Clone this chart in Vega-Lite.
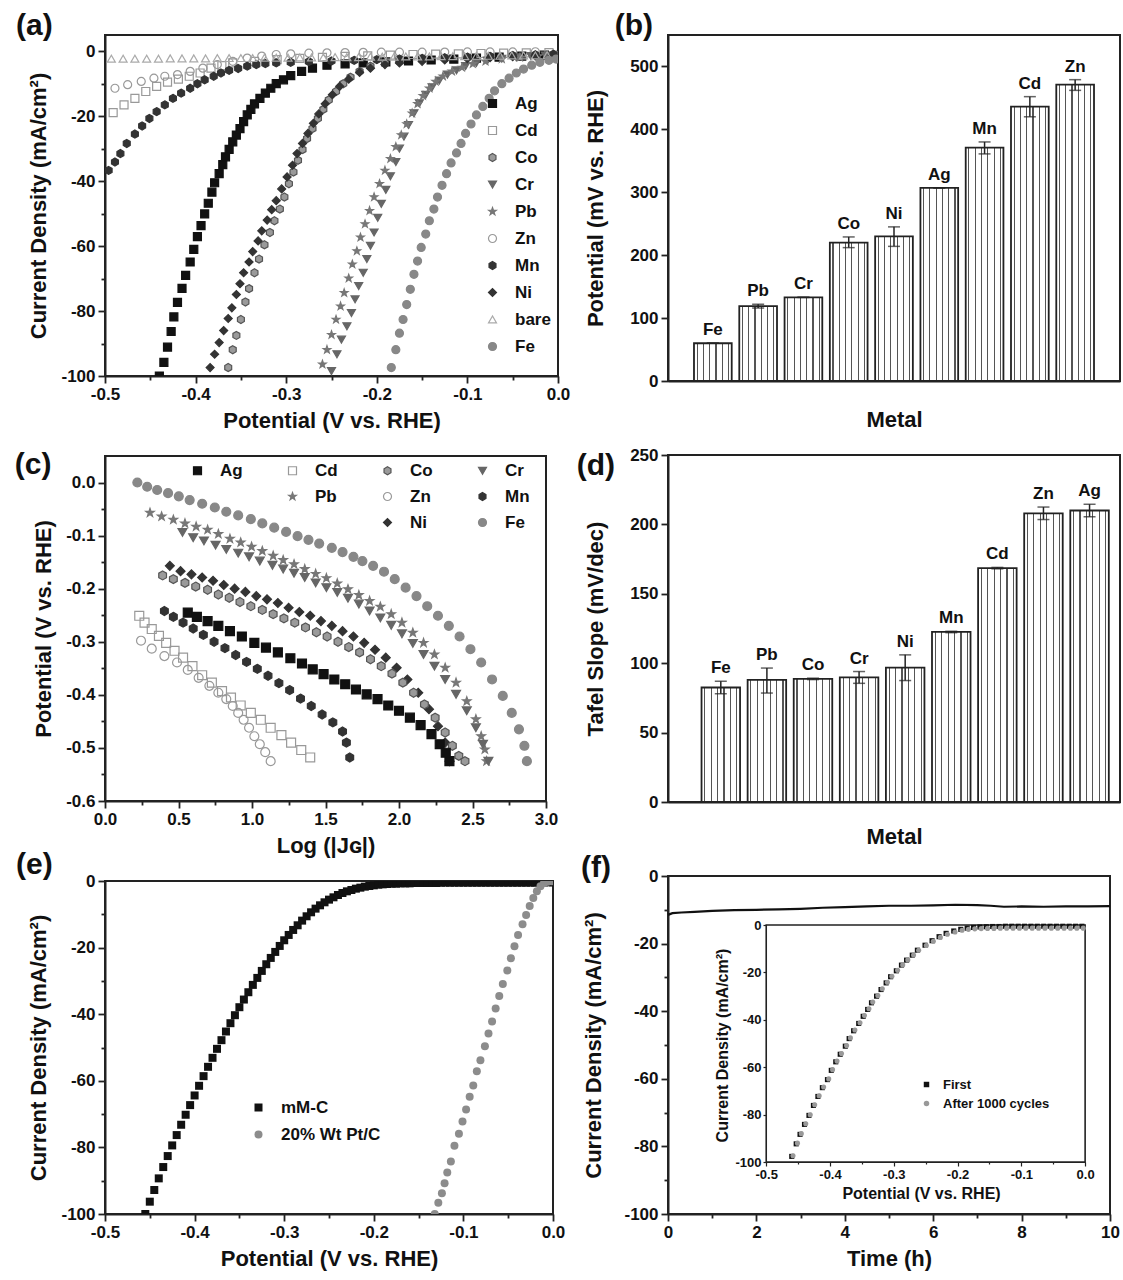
{
"$schema":"https://vega.github.io/schema/vega-lite/v6.json",
"padding":{"left":13,"top":10,"right":2,"bottom":2},
"background":"white",
"config":{
 "font":"Liberation Sans",
 "locale":{"number":{"decimal":".","thousands":",","grouping":[3],"currency":["$",""],"minus":"-"}},
 "view":{"stroke":"#222","strokeWidth":2},
 "axis":{"labelFont":"Liberation Sans","labelFontSize":17,"labelFontWeight":"bold","labelColor":"#111","titleFont":"Liberation Sans","titleFontSize":22,"titleFontWeight":"bold","titleColor":"#111","domainColor":"#222","domainWidth":2,"tickColor":"#222","tickWidth":1.8,"labelPadding":3,"labelFlush":false,"labelOverlap":false,"grid":false},
 "axisX":{"titlePadding":8},
 "axisY":{"titlePadding":10},
 "title":{"fontSize":30,"fontWeight":"bold","color":"#111","anchor":"start","frame":"bounds","offset":0},
 "legend":{"labelFont":"Liberation Sans","labelFontWeight":"bold","labelColor":"#111","labelFontSize":17}
},
"datasets":{
"b":[{"m":"Fe","v":60,"lo":60,"hi":60},{"m":"Pb","v":119,"lo":116,"hi":122},{"m":"Cr","v":133,"lo":133,"hi":133},{"m":"Co","v":220,"lo":212,"hi":229},{"m":"Ni","v":230,"lo":214,"hi":245},{"m":"Ag","v":307,"lo":307,"hi":307},{"m":"Mn","v":371,"lo":361,"hi":380},{"m":"Cd","v":436,"lo":420,"hi":452},{"m":"Zn","v":471,"lo":462,"hi":479}],
"d":[{"m":"Fe","v":82.5,"lo":78,"hi":87},{"m":"Pb","v":88,"lo":78.5,"hi":96.5},{"m":"Co","v":88.7,"lo":88.2,"hi":89.2},{"m":"Cr","v":89.8,"lo":85.5,"hi":94},{"m":"Ni","v":96.8,"lo":87.5,"hi":106},{"m":"Mn","v":122.5,"lo":122,"hi":123},{"m":"Cd","v":168.5,"lo":168,"hi":169},{"m":"Zn","v":208,"lo":203.5,"hi":212.5},{"m":"Ag","v":210,"lo":205.5,"hi":214.5}],
"a":[
{"s":"Ag","x":-0.44,"y":-100},{"s":"Ag","x":-0.435,"y":-95.8},{"s":"Ag","x":-0.431,"y":-91.1},{"s":"Ag","x":-0.427,"y":-86.3},{"s":"Ag","x":-0.424,"y":-81.8},{"s":"Ag","x":-0.42,"y":-77.3},{"s":"Ag","x":-0.415,"y":-73},{"s":"Ag","x":-0.411,"y":-69},{"s":"Ag","x":-0.406,"y":-64.9},{"s":"Ag","x":-0.402,"y":-61},{"s":"Ag","x":-0.398,"y":-57.1},{"s":"Ag","x":-0.394,"y":-53.7},{"s":"Ag","x":-0.39,"y":-50.1},{"s":"Ag","x":-0.386,"y":-46.8},{"s":"Ag","x":-0.382,"y":-43.4},{"s":"Ag","x":-0.379,"y":-40.5},{"s":"Ag","x":-0.374,"y":-37.7},{"s":"Ag","x":-0.37,"y":-34.9},{"s":"Ag","x":-0.367,"y":-32.5},{"s":"Ag","x":-0.363,"y":-30.2},{"s":"Ag","x":-0.359,"y":-27.9},{"s":"Ag","x":-0.355,"y":-25.8},{"s":"Ag","x":-0.351,"y":-23.8},{"s":"Ag","x":-0.347,"y":-21.7},{"s":"Ag","x":-0.343,"y":-19.6},{"s":"Ag","x":-0.339,"y":-17.9},{"s":"Ag","x":-0.335,"y":-16.2},{"s":"Ag","x":-0.329,"y":-14.5},{"s":"Ag","x":-0.323,"y":-12.9},{"s":"Ag","x":-0.317,"y":-11.4},{"s":"Ag","x":-0.311,"y":-10},{"s":"Ag","x":-0.303,"y":-8.8},{"s":"Ag","x":-0.295,"y":-7.5},{"s":"Ag","x":-0.283,"y":-6.2},{"s":"Ag","x":-0.271,"y":-5.2},{"s":"Ag","x":-0.255,"y":-4.3},{"s":"Ag","x":-0.235,"y":-3.9},{"s":"Ag","x":-0.215,"y":-3.6},{"s":"Ag","x":-0.19,"y":-3.3},{"s":"Ag","x":-0.165,"y":-3},{"s":"Ag","x":-0.14,"y":-2.7},{"s":"Ag","x":-0.115,"y":-2.4},{"s":"Ag","x":-0.09,"y":-2.1},{"s":"Ag","x":-0.065,"y":-1.8},{"s":"Ag","x":-0.04,"y":-1.5},{"s":"Ag","x":-0.015,"y":-1.2},
{"s":"Cd","x":-0.491,"y":-18.9},{"s":"Cd","x":-0.479,"y":-16.5},{"s":"Cd","x":-0.467,"y":-14.5},{"s":"Cd","x":-0.455,"y":-12.4},{"s":"Cd","x":-0.443,"y":-10.8},{"s":"Cd","x":-0.431,"y":-9.5},{"s":"Cd","x":-0.419,"y":-8.6},{"s":"Cd","x":-0.407,"y":-7.7},{"s":"Cd","x":-0.395,"y":-6.7},{"s":"Cd","x":-0.383,"y":-5.2},{"s":"Cd","x":-0.371,"y":-4.4},{"s":"Cd","x":-0.359,"y":-3.6},{"s":"Cd","x":-0.335,"y":-3.1},{"s":"Cd","x":-0.31,"y":-2.6},{"s":"Cd","x":-0.285,"y":-2.2},{"s":"Cd","x":-0.26,"y":-1.9},{"s":"Cd","x":-0.235,"y":-1.6},{"s":"Cd","x":-0.21,"y":-1.4},{"s":"Cd","x":-0.185,"y":-1.2},{"s":"Cd","x":-0.16,"y":-1},{"s":"Cd","x":-0.135,"y":-0.9},{"s":"Cd","x":-0.11,"y":-0.8},{"s":"Cd","x":-0.085,"y":-0.7},{"s":"Cd","x":-0.06,"y":-0.6},{"s":"Cd","x":-0.035,"y":-0.5},{"s":"Cd","x":-0.01,"y":-0.4},
{"s":"Co","x":-0.364,"y":-97.4},{"s":"Co","x":-0.359,"y":-91.9},{"s":"Co","x":-0.355,"y":-87.5},{"s":"Co","x":-0.35,"y":-82.6},{"s":"Co","x":-0.345,"y":-77.2},{"s":"Co","x":-0.341,"y":-73.1},{"s":"Co","x":-0.335,"y":-68.2},{"s":"Co","x":-0.33,"y":-64},{"s":"Co","x":-0.324,"y":-59.6},{"s":"Co","x":-0.318,"y":-55.8},{"s":"Co","x":-0.313,"y":-52.2},{"s":"Co","x":-0.307,"y":-48.6},{"s":"Co","x":-0.302,"y":-44.9},{"s":"Co","x":-0.297,"y":-40.8},{"s":"Co","x":-0.292,"y":-37.2},{"s":"Co","x":-0.287,"y":-33.6},{"s":"Co","x":-0.282,"y":-30.3},{"s":"Co","x":-0.277,"y":-26.9},{"s":"Co","x":-0.271,"y":-23.8},{"s":"Co","x":-0.265,"y":-20.7},{"s":"Co","x":-0.259,"y":-17.9},{"s":"Co","x":-0.253,"y":-15},{"s":"Co","x":-0.245,"y":-12.4},{"s":"Co","x":-0.237,"y":-10},{"s":"Co","x":-0.229,"y":-8},{"s":"Co","x":-0.219,"y":-6.2},{"s":"Co","x":-0.207,"y":-4.6},{"s":"Co","x":-0.191,"y":-3.6},{"s":"Co","x":-0.175,"y":-3.1},{"s":"Co","x":-0.15,"y":-2.6},{"s":"Co","x":-0.125,"y":-2.2},{"s":"Co","x":-0.1,"y":-1.9},{"s":"Co","x":-0.075,"y":-1.6},{"s":"Co","x":-0.05,"y":-1.3},{"s":"Co","x":-0.025,"y":-1.1},{"s":"Co","x":-0.005,"y":-0.9},
{"s":"Cr","x":-0.25,"y":-98.5},{"s":"Cr","x":-0.244,"y":-93.3},{"s":"Cr","x":-0.239,"y":-88.8},{"s":"Cr","x":-0.233,"y":-84.7},{"s":"Cr","x":-0.228,"y":-80.6},{"s":"Cr","x":-0.224,"y":-76.4},{"s":"Cr","x":-0.22,"y":-72.3},{"s":"Cr","x":-0.215,"y":-68.2},{"s":"Cr","x":-0.211,"y":-64},{"s":"Cr","x":-0.207,"y":-59.9},{"s":"Cr","x":-0.203,"y":-55.8},{"s":"Cr","x":-0.199,"y":-51.3},{"s":"Cr","x":-0.195,"y":-47},{"s":"Cr","x":-0.19,"y":-42.7},{"s":"Cr","x":-0.185,"y":-38.5},{"s":"Cr","x":-0.179,"y":-34.1},{"s":"Cr","x":-0.175,"y":-30},{"s":"Cr","x":-0.17,"y":-26.3},{"s":"Cr","x":-0.165,"y":-22.7},{"s":"Cr","x":-0.159,"y":-19.1},{"s":"Cr","x":-0.153,"y":-16},{"s":"Cr","x":-0.146,"y":-13.4},{"s":"Cr","x":-0.139,"y":-11.1},{"s":"Cr","x":-0.131,"y":-9},{"s":"Cr","x":-0.122,"y":-7.2},{"s":"Cr","x":-0.112,"y":-5.9},{"s":"Cr","x":-0.102,"y":-4.6},{"s":"Cr","x":-0.09,"y":-3.6},{"s":"Cr","x":-0.078,"y":-2.9},{"s":"Cr","x":-0.062,"y":-2.3},{"s":"Cr","x":-0.046,"y":-1.9},{"s":"Cr","x":-0.03,"y":-1.5},{"s":"Cr","x":-0.014,"y":-1.3},{"s":"Cr","x":-0.002,"y":-1.2},
{"s":"Pb","x":-0.26,"y":-96.4},{"s":"Pb","x":-0.255,"y":-91.9},{"s":"Pb","x":-0.25,"y":-87.3},{"s":"Pb","x":-0.245,"y":-82.6},{"s":"Pb","x":-0.24,"y":-78.5},{"s":"Pb","x":-0.236,"y":-74.4},{"s":"Pb","x":-0.231,"y":-69.9},{"s":"Pb","x":-0.227,"y":-65.6},{"s":"Pb","x":-0.222,"y":-61.5},{"s":"Pb","x":-0.218,"y":-57.3},{"s":"Pb","x":-0.213,"y":-53.2},{"s":"Pb","x":-0.208,"y":-49.1},{"s":"Pb","x":-0.203,"y":-44.9},{"s":"Pb","x":-0.197,"y":-40.8},{"s":"Pb","x":-0.191,"y":-36.7},{"s":"Pb","x":-0.185,"y":-33.1},{"s":"Pb","x":-0.179,"y":-29.4},{"s":"Pb","x":-0.173,"y":-25.8},{"s":"Pb","x":-0.167,"y":-22.4},{"s":"Pb","x":-0.161,"y":-19.1},{"s":"Pb","x":-0.155,"y":-16.2},{"s":"Pb","x":-0.149,"y":-13.7},{"s":"Pb","x":-0.142,"y":-11.4},{"s":"Pb","x":-0.135,"y":-9.3},{"s":"Pb","x":-0.127,"y":-7.7},{"s":"Pb","x":-0.117,"y":-6.2},{"s":"Pb","x":-0.106,"y":-5},{"s":"Pb","x":-0.094,"y":-3.9},{"s":"Pb","x":-0.08,"y":-3.1},{"s":"Pb","x":-0.062,"y":-2.4},{"s":"Pb","x":-0.042,"y":-1.9},{"s":"Pb","x":-0.022,"y":-1.5},{"s":"Pb","x":-0.002,"y":-1.3},
{"s":"Zn","x":-0.489,"y":-11.4},{"s":"Zn","x":-0.475,"y":-10.3},{"s":"Zn","x":-0.46,"y":-9.3},{"s":"Zn","x":-0.446,"y":-8.3},{"s":"Zn","x":-0.434,"y":-7.7},{"s":"Zn","x":-0.42,"y":-7.2},{"s":"Zn","x":-0.406,"y":-6.2},{"s":"Zn","x":-0.392,"y":-5.2},{"s":"Zn","x":-0.376,"y":-4.1},{"s":"Zn","x":-0.359,"y":-3.1},{"s":"Zn","x":-0.343,"y":-2.1},{"s":"Zn","x":-0.327,"y":-1.5},{"s":"Zn","x":-0.311,"y":-1},{"s":"Zn","x":-0.295,"y":-0.8},{"s":"Zn","x":-0.275,"y":-0.6},{"s":"Zn","x":-0.255,"y":-0.5},{"s":"Zn","x":-0.235,"y":-0.4},{"s":"Zn","x":-0.215,"y":-0.35},{"s":"Zn","x":-0.195,"y":-0.3},{"s":"Zn","x":-0.175,"y":-0.3},{"s":"Zn","x":-0.15,"y":-0.3},{"s":"Zn","x":-0.125,"y":-0.25},{"s":"Zn","x":-0.1,"y":-0.2},{"s":"Zn","x":-0.075,"y":-0.2},{"s":"Zn","x":-0.05,"y":-0.2},{"s":"Zn","x":-0.025,"y":-0.15},
{"s":"Mn","x":-0.496,"y":-36.7},{"s":"Mn","x":-0.489,"y":-34.1},{"s":"Mn","x":-0.483,"y":-31.5},{"s":"Mn","x":-0.476,"y":-28.4},{"s":"Mn","x":-0.467,"y":-25.5},{"s":"Mn","x":-0.459,"y":-23},{"s":"Mn","x":-0.451,"y":-20.7},{"s":"Mn","x":-0.443,"y":-18.6},{"s":"Mn","x":-0.434,"y":-16.5},{"s":"Mn","x":-0.425,"y":-14.5},{"s":"Mn","x":-0.416,"y":-12.9},{"s":"Mn","x":-0.406,"y":-11.4},{"s":"Mn","x":-0.398,"y":-10},{"s":"Mn","x":-0.39,"y":-8.8},{"s":"Mn","x":-0.38,"y":-7.7},{"s":"Mn","x":-0.372,"y":-6.7},{"s":"Mn","x":-0.363,"y":-5.9},{"s":"Mn","x":-0.353,"y":-5.3},{"s":"Mn","x":-0.343,"y":-4.6},{"s":"Mn","x":-0.333,"y":-4.1},{"s":"Mn","x":-0.323,"y":-3.8},{"s":"Mn","x":-0.311,"y":-3.6},{"s":"Mn","x":-0.295,"y":-3.4},{"s":"Mn","x":-0.275,"y":-3.2},{"s":"Mn","x":-0.25,"y":-3},{"s":"Mn","x":-0.225,"y":-2.8},{"s":"Mn","x":-0.2,"y":-2.6},{"s":"Mn","x":-0.175,"y":-2.4},{"s":"Mn","x":-0.15,"y":-2.2},{"s":"Mn","x":-0.125,"y":-2},{"s":"Mn","x":-0.1,"y":-1.8},{"s":"Mn","x":-0.075,"y":-1.6},{"s":"Mn","x":-0.05,"y":-1.4},{"s":"Mn","x":-0.025,"y":-1.2},{"s":"Mn","x":-0.005,"y":-1},
{"s":"Ni","x":-0.384,"y":-97.4},{"s":"Ni","x":-0.379,"y":-93.3},{"s":"Ni","x":-0.374,"y":-89.7},{"s":"Ni","x":-0.369,"y":-86},{"s":"Ni","x":-0.364,"y":-82.3},{"s":"Ni","x":-0.36,"y":-79},{"s":"Ni","x":-0.355,"y":-74.9},{"s":"Ni","x":-0.351,"y":-71.6},{"s":"Ni","x":-0.347,"y":-68.2},{"s":"Ni","x":-0.341,"y":-64.9},{"s":"Ni","x":-0.337,"y":-61.7},{"s":"Ni","x":-0.331,"y":-58.4},{"s":"Ni","x":-0.327,"y":-55.3},{"s":"Ni","x":-0.321,"y":-52},{"s":"Ni","x":-0.316,"y":-48.8},{"s":"Ni","x":-0.311,"y":-46},{"s":"Ni","x":-0.305,"y":-42.4},{"s":"Ni","x":-0.299,"y":-38.7},{"s":"Ni","x":-0.293,"y":-35.1},{"s":"Ni","x":-0.288,"y":-31.5},{"s":"Ni","x":-0.282,"y":-28.4},{"s":"Ni","x":-0.276,"y":-25.3},{"s":"Ni","x":-0.27,"y":-22.2},{"s":"Ni","x":-0.264,"y":-19.3},{"s":"Ni","x":-0.257,"y":-16.2},{"s":"Ni","x":-0.249,"y":-13.4},{"s":"Ni","x":-0.241,"y":-10.8},{"s":"Ni","x":-0.231,"y":-8.6},{"s":"Ni","x":-0.219,"y":-6.5},{"s":"Ni","x":-0.207,"y":-5.2},{"s":"Ni","x":-0.191,"y":-4.1},{"s":"Ni","x":-0.175,"y":-3.6},{"s":"Ni","x":-0.15,"y":-3.1},{"s":"Ni","x":-0.125,"y":-2.7},{"s":"Ni","x":-0.1,"y":-2.3},{"s":"Ni","x":-0.075,"y":-2},{"s":"Ni","x":-0.05,"y":-1.7},{"s":"Ni","x":-0.025,"y":-1.4},{"s":"Ni","x":-0.005,"y":-1.2},
{"s":"bare","x":-0.493,"y":-2.3},{"s":"bare","x":-0.48,"y":-2.3},{"s":"bare","x":-0.467,"y":-2.3},{"s":"bare","x":-0.454,"y":-2.3},{"s":"bare","x":-0.441,"y":-2.3},{"s":"bare","x":-0.428,"y":-2.2},{"s":"bare","x":-0.415,"y":-2.2},{"s":"bare","x":-0.402,"y":-2.2},{"s":"bare","x":-0.389,"y":-2.2},{"s":"bare","x":-0.376,"y":-2.1},{"s":"bare","x":-0.363,"y":-2.1},{"s":"bare","x":-0.35,"y":-2.1},{"s":"bare","x":-0.337,"y":-2.1},{"s":"bare","x":-0.324,"y":-2},{"s":"bare","x":-0.311,"y":-2},{"s":"bare","x":-0.298,"y":-2},{"s":"bare","x":-0.285,"y":-1.9},{"s":"bare","x":-0.272,"y":-1.9},{"s":"bare","x":-0.259,"y":-1.9},{"s":"bare","x":-0.246,"y":-1.8},{"s":"bare","x":-0.233,"y":-1.8},{"s":"bare","x":-0.22,"y":-1.8},{"s":"bare","x":-0.207,"y":-1.7},{"s":"bare","x":-0.194,"y":-1.7},{"s":"bare","x":-0.181,"y":-1.7},{"s":"bare","x":-0.168,"y":-1.6},{"s":"bare","x":-0.155,"y":-1.6},{"s":"bare","x":-0.142,"y":-1.6},{"s":"bare","x":-0.129,"y":-1.5},{"s":"bare","x":-0.116,"y":-1.5},{"s":"bare","x":-0.103,"y":-1.5},{"s":"bare","x":-0.09,"y":-1.4},{"s":"bare","x":-0.077,"y":-1.4},{"s":"bare","x":-0.064,"y":-1.4},{"s":"bare","x":-0.051,"y":-1.3},{"s":"bare","x":-0.038,"y":-1.3},{"s":"bare","x":-0.025,"y":-1.3},{"s":"bare","x":-0.012,"y":-1.2},
{"s":"Fe","x":-0.184,"y":-97.4},{"s":"Fe","x":-0.179,"y":-91.9},{"s":"Fe","x":-0.175,"y":-86.8},{"s":"Fe","x":-0.171,"y":-82.6},{"s":"Fe","x":-0.167,"y":-78},{"s":"Fe","x":-0.163,"y":-73.3},{"s":"Fe","x":-0.159,"y":-68.7},{"s":"Fe","x":-0.155,"y":-64.6},{"s":"Fe","x":-0.151,"y":-60.4},{"s":"Fe","x":-0.146,"y":-56.3},{"s":"Fe","x":-0.142,"y":-52.2},{"s":"Fe","x":-0.137,"y":-48.6},{"s":"Fe","x":-0.133,"y":-44.9},{"s":"Fe","x":-0.128,"y":-41.3},{"s":"Fe","x":-0.123,"y":-37.7},{"s":"Fe","x":-0.118,"y":-34.4},{"s":"Fe","x":-0.112,"y":-31.3},{"s":"Fe","x":-0.107,"y":-28.4},{"s":"Fe","x":-0.102,"y":-25.3},{"s":"Fe","x":-0.096,"y":-22.4},{"s":"Fe","x":-0.09,"y":-19.6},{"s":"Fe","x":-0.083,"y":-17},{"s":"Fe","x":-0.076,"y":-14.5},{"s":"Fe","x":-0.07,"y":-12.2},{"s":"Fe","x":-0.062,"y":-10},{"s":"Fe","x":-0.054,"y":-8.3},{"s":"Fe","x":-0.046,"y":-6.7},{"s":"Fe","x":-0.038,"y":-5.5},{"s":"Fe","x":-0.029,"y":-4.3},{"s":"Fe","x":-0.02,"y":-3.4},{"s":"Fe","x":-0.01,"y":-2.8},{"s":"Fe","x":-0.002,"y":-2.4}
],
"c":[
{"s":"Fe","x":0.22,"y":0},{"s":"Fe","x":0.287,"y":-0.008},{"s":"Fe","x":0.355,"y":-0.014},{"s":"Fe","x":0.429,"y":-0.02},{"s":"Fe","x":0.502,"y":-0.026},{"s":"Fe","x":0.576,"y":-0.033},{"s":"Fe","x":0.661,"y":-0.04},{"s":"Fe","x":0.747,"y":-0.047},{"s":"Fe","x":0.825,"y":-0.055},{"s":"Fe","x":0.906,"y":-0.062},{"s":"Fe","x":0.992,"y":-0.069},{"s":"Fe","x":1.07,"y":-0.077},{"s":"Fe","x":1.151,"y":-0.085},{"s":"Fe","x":1.232,"y":-0.093},{"s":"Fe","x":1.31,"y":-0.101},{"s":"Fe","x":1.384,"y":-0.108},{"s":"Fe","x":1.457,"y":-0.115},{"s":"Fe","x":1.543,"y":-0.123},{"s":"Fe","x":1.616,"y":-0.131},{"s":"Fe","x":1.69,"y":-0.14},{"s":"Fe","x":1.751,"y":-0.148},{"s":"Fe","x":1.824,"y":-0.157},{"s":"Fe","x":1.898,"y":-0.168},{"s":"Fe","x":1.971,"y":-0.182},{"s":"Fe","x":2.045,"y":-0.198},{"s":"Fe","x":2.119,"y":-0.214},{"s":"Fe","x":2.192,"y":-0.233},{"s":"Fe","x":2.265,"y":-0.251},{"s":"Fe","x":2.339,"y":-0.27},{"s":"Fe","x":2.412,"y":-0.29},{"s":"Fe","x":2.486,"y":-0.314},{"s":"Fe","x":2.559,"y":-0.339},{"s":"Fe","x":2.633,"y":-0.371},{"s":"Fe","x":2.706,"y":-0.402},{"s":"Fe","x":2.767,"y":-0.434},{"s":"Fe","x":2.816,"y":-0.465},{"s":"Fe","x":2.853,"y":-0.496},{"s":"Fe","x":2.87,"y":-0.525},
{"s":"Pb","x":0.306,"y":-0.057},{"s":"Pb","x":0.385,"y":-0.064},{"s":"Pb","x":0.465,"y":-0.07},{"s":"Pb","x":0.544,"y":-0.077},{"s":"Pb","x":0.62,"y":-0.083},{"s":"Pb","x":0.698,"y":-0.089},{"s":"Pb","x":0.771,"y":-0.097},{"s":"Pb","x":0.85,"y":-0.106},{"s":"Pb","x":0.923,"y":-0.113},{"s":"Pb","x":0.997,"y":-0.121},{"s":"Pb","x":1.07,"y":-0.129},{"s":"Pb","x":1.144,"y":-0.138},{"s":"Pb","x":1.212,"y":-0.146},{"s":"Pb","x":1.286,"y":-0.154},{"s":"Pb","x":1.359,"y":-0.163},{"s":"Pb","x":1.433,"y":-0.172},{"s":"Pb","x":1.506,"y":-0.18},{"s":"Pb","x":1.58,"y":-0.19},{"s":"Pb","x":1.653,"y":-0.201},{"s":"Pb","x":1.727,"y":-0.212},{"s":"Pb","x":1.8,"y":-0.223},{"s":"Pb","x":1.873,"y":-0.234},{"s":"Pb","x":1.947,"y":-0.248},{"s":"Pb","x":2.02,"y":-0.264},{"s":"Pb","x":2.094,"y":-0.283},{"s":"Pb","x":2.167,"y":-0.302},{"s":"Pb","x":2.241,"y":-0.324},{"s":"Pb","x":2.314,"y":-0.349},{"s":"Pb","x":2.388,"y":-0.377},{"s":"Pb","x":2.461,"y":-0.412},{"s":"Pb","x":2.523,"y":-0.446},{"s":"Pb","x":2.559,"y":-0.478},{"s":"Pb","x":2.584,"y":-0.503},{"s":"Pb","x":2.596,"y":-0.525},
{"s":"Cr","x":0.527,"y":-0.094},{"s":"Cr","x":0.6,"y":-0.104},{"s":"Cr","x":0.673,"y":-0.11},{"s":"Cr","x":0.752,"y":-0.118},{"s":"Cr","x":0.825,"y":-0.126},{"s":"Cr","x":0.906,"y":-0.133},{"s":"Cr","x":0.98,"y":-0.14},{"s":"Cr","x":1.053,"y":-0.148},{"s":"Cr","x":1.139,"y":-0.156},{"s":"Cr","x":1.212,"y":-0.163},{"s":"Cr","x":1.286,"y":-0.171},{"s":"Cr","x":1.359,"y":-0.179},{"s":"Cr","x":1.433,"y":-0.189},{"s":"Cr","x":1.506,"y":-0.198},{"s":"Cr","x":1.58,"y":-0.207},{"s":"Cr","x":1.653,"y":-0.218},{"s":"Cr","x":1.727,"y":-0.229},{"s":"Cr","x":1.8,"y":-0.242},{"s":"Cr","x":1.873,"y":-0.255},{"s":"Cr","x":1.947,"y":-0.269},{"s":"Cr","x":2.02,"y":-0.285},{"s":"Cr","x":2.094,"y":-0.303},{"s":"Cr","x":2.167,"y":-0.324},{"s":"Cr","x":2.241,"y":-0.346},{"s":"Cr","x":2.314,"y":-0.371},{"s":"Cr","x":2.388,"y":-0.399},{"s":"Cr","x":2.461,"y":-0.43},{"s":"Cr","x":2.523,"y":-0.462},{"s":"Cr","x":2.571,"y":-0.493},{"s":"Cr","x":2.608,"y":-0.525},
{"s":"Ni","x":0.441,"y":-0.157},{"s":"Ni","x":0.514,"y":-0.167},{"s":"Ni","x":0.588,"y":-0.173},{"s":"Ni","x":0.661,"y":-0.179},{"s":"Ni","x":0.735,"y":-0.185},{"s":"Ni","x":0.808,"y":-0.193},{"s":"Ni","x":0.882,"y":-0.2},{"s":"Ni","x":0.955,"y":-0.206},{"s":"Ni","x":1.029,"y":-0.214},{"s":"Ni","x":1.102,"y":-0.22},{"s":"Ni","x":1.176,"y":-0.227},{"s":"Ni","x":1.249,"y":-0.236},{"s":"Ni","x":1.322,"y":-0.244},{"s":"Ni","x":1.396,"y":-0.251},{"s":"Ni","x":1.469,"y":-0.261},{"s":"Ni","x":1.543,"y":-0.27},{"s":"Ni","x":1.616,"y":-0.28},{"s":"Ni","x":1.69,"y":-0.29},{"s":"Ni","x":1.763,"y":-0.302},{"s":"Ni","x":1.837,"y":-0.315},{"s":"Ni","x":1.91,"y":-0.33},{"s":"Ni","x":1.984,"y":-0.349},{"s":"Ni","x":2.057,"y":-0.371},{"s":"Ni","x":2.131,"y":-0.396},{"s":"Ni","x":2.204,"y":-0.427},{"s":"Ni","x":2.265,"y":-0.459},{"s":"Ni","x":2.314,"y":-0.49},{"s":"Ni","x":2.344,"y":-0.525},
{"s":"Co","x":0.392,"y":-0.175},{"s":"Co","x":0.465,"y":-0.182},{"s":"Co","x":0.544,"y":-0.189},{"s":"Co","x":0.617,"y":-0.196},{"s":"Co","x":0.698,"y":-0.202},{"s":"Co","x":0.771,"y":-0.211},{"s":"Co","x":0.845,"y":-0.217},{"s":"Co","x":0.918,"y":-0.225},{"s":"Co","x":0.992,"y":-0.233},{"s":"Co","x":1.07,"y":-0.24},{"s":"Co","x":1.144,"y":-0.248},{"s":"Co","x":1.217,"y":-0.256},{"s":"Co","x":1.291,"y":-0.264},{"s":"Co","x":1.364,"y":-0.273},{"s":"Co","x":1.438,"y":-0.282},{"s":"Co","x":1.511,"y":-0.29},{"s":"Co","x":1.585,"y":-0.3},{"s":"Co","x":1.658,"y":-0.31},{"s":"Co","x":1.732,"y":-0.32},{"s":"Co","x":1.806,"y":-0.333},{"s":"Co","x":1.879,"y":-0.346},{"s":"Co","x":1.952,"y":-0.36},{"s":"Co","x":2.026,"y":-0.377},{"s":"Co","x":2.099,"y":-0.396},{"s":"Co","x":2.173,"y":-0.418},{"s":"Co","x":2.246,"y":-0.443},{"s":"Co","x":2.314,"y":-0.471},{"s":"Co","x":2.363,"y":-0.496},{"s":"Co","x":2.407,"y":-0.515},{"s":"Co","x":2.449,"y":-0.525},
{"s":"Ag","x":0.563,"y":-0.245},{"s":"Ag","x":0.625,"y":-0.253},{"s":"Ag","x":0.698,"y":-0.261},{"s":"Ag","x":0.771,"y":-0.27},{"s":"Ag","x":0.85,"y":-0.28},{"s":"Ag","x":0.931,"y":-0.29},{"s":"Ag","x":1.016,"y":-0.302},{"s":"Ag","x":1.095,"y":-0.311},{"s":"Ag","x":1.176,"y":-0.32},{"s":"Ag","x":1.261,"y":-0.331},{"s":"Ag","x":1.34,"y":-0.341},{"s":"Ag","x":1.413,"y":-0.352},{"s":"Ag","x":1.487,"y":-0.361},{"s":"Ag","x":1.56,"y":-0.371},{"s":"Ag","x":1.634,"y":-0.38},{"s":"Ag","x":1.707,"y":-0.39},{"s":"Ag","x":1.78,"y":-0.399},{"s":"Ag","x":1.854,"y":-0.408},{"s":"Ag","x":1.927,"y":-0.42},{"s":"Ag","x":2,"y":-0.43},{"s":"Ag","x":2.074,"y":-0.443},{"s":"Ag","x":2.147,"y":-0.457},{"s":"Ag","x":2.221,"y":-0.474},{"s":"Ag","x":2.277,"y":-0.493},{"s":"Ag","x":2.318,"y":-0.509},{"s":"Ag","x":2.343,"y":-0.525},
{"s":"Mn","x":0.404,"y":-0.242},{"s":"Mn","x":0.465,"y":-0.253},{"s":"Mn","x":0.531,"y":-0.264},{"s":"Mn","x":0.6,"y":-0.275},{"s":"Mn","x":0.669,"y":-0.287},{"s":"Mn","x":0.742,"y":-0.3},{"s":"Mn","x":0.816,"y":-0.312},{"s":"Mn","x":0.889,"y":-0.325},{"s":"Mn","x":0.963,"y":-0.338},{"s":"Mn","x":1.036,"y":-0.351},{"s":"Mn","x":1.109,"y":-0.364},{"s":"Mn","x":1.183,"y":-0.378},{"s":"Mn","x":1.256,"y":-0.391},{"s":"Mn","x":1.33,"y":-0.407},{"s":"Mn","x":1.403,"y":-0.421},{"s":"Mn","x":1.477,"y":-0.437},{"s":"Mn","x":1.55,"y":-0.452},{"s":"Mn","x":1.616,"y":-0.469},{"s":"Mn","x":1.642,"y":-0.49},{"s":"Mn","x":1.665,"y":-0.518},
{"s":"Cd","x":0.233,"y":-0.251},{"s":"Cd","x":0.269,"y":-0.264},{"s":"Cd","x":0.318,"y":-0.276},{"s":"Cd","x":0.367,"y":-0.289},{"s":"Cd","x":0.416,"y":-0.302},{"s":"Cd","x":0.473,"y":-0.317},{"s":"Cd","x":0.531,"y":-0.33},{"s":"Cd","x":0.595,"y":-0.346},{"s":"Cd","x":0.661,"y":-0.363},{"s":"Cd","x":0.727,"y":-0.377},{"s":"Cd","x":0.796,"y":-0.393},{"s":"Cd","x":0.857,"y":-0.405},{"s":"Cd","x":0.923,"y":-0.42},{"s":"Cd","x":0.992,"y":-0.434},{"s":"Cd","x":1.06,"y":-0.447},{"s":"Cd","x":1.127,"y":-0.462},{"s":"Cd","x":1.2,"y":-0.476},{"s":"Cd","x":1.266,"y":-0.49},{"s":"Cd","x":1.335,"y":-0.504},{"s":"Cd","x":1.396,"y":-0.518},
{"s":"Zn","x":0.245,"y":-0.298},{"s":"Zn","x":0.318,"y":-0.313},{"s":"Zn","x":0.404,"y":-0.327},{"s":"Zn","x":0.49,"y":-0.339},{"s":"Zn","x":0.563,"y":-0.353},{"s":"Zn","x":0.637,"y":-0.368},{"s":"Zn","x":0.71,"y":-0.383},{"s":"Zn","x":0.771,"y":-0.396},{"s":"Zn","x":0.825,"y":-0.408},{"s":"Zn","x":0.869,"y":-0.421},{"s":"Zn","x":0.906,"y":-0.434},{"s":"Zn","x":0.943,"y":-0.447},{"s":"Zn","x":0.98,"y":-0.462},{"s":"Zn","x":1.016,"y":-0.478},{"s":"Zn","x":1.053,"y":-0.493},{"s":"Zn","x":1.09,"y":-0.508},{"s":"Zn","x":1.127,"y":-0.525}
],
"e":[
{"s":"mM-C","x":-0.455,"y":-100},{"s":"mM-C","x":-0.45,"y":-96.3},{"s":"mM-C","x":-0.445,"y":-92.8},{"s":"mM-C","x":-0.44,"y":-89.3},{"s":"mM-C","x":-0.435,"y":-85.9},{"s":"mM-C","x":-0.43,"y":-82.6},{"s":"mM-C","x":-0.425,"y":-79.4},{"s":"mM-C","x":-0.42,"y":-76.3},{"s":"mM-C","x":-0.415,"y":-73.2},{"s":"mM-C","x":-0.41,"y":-70.2},{"s":"mM-C","x":-0.405,"y":-67.3},{"s":"mM-C","x":-0.4,"y":-64.4},{"s":"mM-C","x":-0.395,"y":-61.5},{"s":"mM-C","x":-0.39,"y":-58.6},{"s":"mM-C","x":-0.385,"y":-55.8},{"s":"mM-C","x":-0.38,"y":-53.1},{"s":"mM-C","x":-0.375,"y":-50.4},{"s":"mM-C","x":-0.37,"y":-47.8},{"s":"mM-C","x":-0.365,"y":-45.2},{"s":"mM-C","x":-0.36,"y":-42.7},{"s":"mM-C","x":-0.355,"y":-40.3},{"s":"mM-C","x":-0.35,"y":-37.9},{"s":"mM-C","x":-0.345,"y":-35.6},{"s":"mM-C","x":-0.34,"y":-33.4},{"s":"mM-C","x":-0.335,"y":-31.2},{"s":"mM-C","x":-0.33,"y":-29.1},{"s":"mM-C","x":-0.325,"y":-27},{"s":"mM-C","x":-0.32,"y":-25},{"s":"mM-C","x":-0.315,"y":-23.1},{"s":"mM-C","x":-0.31,"y":-21.3},{"s":"mM-C","x":-0.305,"y":-19.5},{"s":"mM-C","x":-0.3,"y":-17.8},{"s":"mM-C","x":-0.295,"y":-16.2},{"s":"mM-C","x":-0.29,"y":-14.7},{"s":"mM-C","x":-0.285,"y":-13.3},{"s":"mM-C","x":-0.28,"y":-11.9},{"s":"mM-C","x":-0.275,"y":-10.6},{"s":"mM-C","x":-0.27,"y":-9.4},{"s":"mM-C","x":-0.265,"y":-8.3},{"s":"mM-C","x":-0.26,"y":-7.3},{"s":"mM-C","x":-0.255,"y":-6.4},{"s":"mM-C","x":-0.25,"y":-5.6},{"s":"mM-C","x":-0.245,"y":-4.9},{"s":"mM-C","x":-0.24,"y":-4.2},{"s":"mM-C","x":-0.235,"y":-3.6},{"s":"mM-C","x":-0.23,"y":-3.1},{"s":"mM-C","x":-0.225,"y":-2.7},{"s":"mM-C","x":-0.22,"y":-2.3},{"s":"mM-C","x":-0.215,"y":-2},{"s":"mM-C","x":-0.21,"y":-1.7},{"s":"mM-C","x":-0.205,"y":-1.5},{"s":"mM-C","x":-0.2,"y":-1.3},{"s":"mM-C","x":-0.195,"y":-1.1},{"s":"mM-C","x":-0.19,"y":-1},{"s":"mM-C","x":-0.185,"y":-0.9},{"s":"mM-C","x":-0.18,"y":-0.8},{"s":"mM-C","x":-0.175,"y":-0.8},{"s":"mM-C","x":-0.17,"y":-0.7},{"s":"mM-C","x":-0.165,"y":-0.7},{"s":"mM-C","x":-0.16,"y":-0.7},{"s":"mM-C","x":-0.155,"y":-0.6},{"s":"mM-C","x":-0.15,"y":-0.6},{"s":"mM-C","x":-0.145,"y":-0.6},{"s":"mM-C","x":-0.14,"y":-0.6},{"s":"mM-C","x":-0.135,"y":-0.6},{"s":"mM-C","x":-0.13,"y":-0.6},{"s":"mM-C","x":-0.125,"y":-0.5},{"s":"mM-C","x":-0.12,"y":-0.5},{"s":"mM-C","x":-0.115,"y":-0.5},{"s":"mM-C","x":-0.11,"y":-0.5},{"s":"mM-C","x":-0.105,"y":-0.5},{"s":"mM-C","x":-0.1,"y":-0.5},{"s":"mM-C","x":-0.095,"y":-0.5},{"s":"mM-C","x":-0.09,"y":-0.5},{"s":"mM-C","x":-0.085,"y":-0.5},{"s":"mM-C","x":-0.08,"y":-0.5},{"s":"mM-C","x":-0.075,"y":-0.5},{"s":"mM-C","x":-0.07,"y":-0.5},{"s":"mM-C","x":-0.065,"y":-0.5},{"s":"mM-C","x":-0.06,"y":-0.5},{"s":"mM-C","x":-0.055,"y":-0.5},{"s":"mM-C","x":-0.05,"y":-0.5},{"s":"mM-C","x":-0.045,"y":-0.5},{"s":"mM-C","x":-0.04,"y":-0.5},{"s":"mM-C","x":-0.035,"y":-0.5},{"s":"mM-C","x":-0.03,"y":-0.5},{"s":"mM-C","x":-0.025,"y":-0.5},{"s":"mM-C","x":-0.02,"y":-0.5},{"s":"mM-C","x":-0.015,"y":-0.5},{"s":"mM-C","x":-0.01,"y":-0.4},{"s":"mM-C","x":-0.005,"y":-0.4},{"s":"mM-C","x":0,"y":-0.4},
{"s":"20% Wt Pt/C","x":-0.132,"y":-100},{"s":"20% Wt Pt/C","x":-0.128,"y":-96.6},{"s":"20% Wt Pt/C","x":-0.124,"y":-93.8},{"s":"20% Wt Pt/C","x":-0.121,"y":-90.8},{"s":"20% Wt Pt/C","x":-0.118,"y":-87.5},{"s":"20% Wt Pt/C","x":-0.114,"y":-84.2},{"s":"20% Wt Pt/C","x":-0.11,"y":-79.5},{"s":"20% Wt Pt/C","x":-0.105,"y":-75.9},{"s":"20% Wt Pt/C","x":-0.101,"y":-72.2},{"s":"20% Wt Pt/C","x":-0.097,"y":-68.6},{"s":"20% Wt Pt/C","x":-0.093,"y":-64.8},{"s":"20% Wt Pt/C","x":-0.089,"y":-61.4},{"s":"20% Wt Pt/C","x":-0.085,"y":-57.1},{"s":"20% Wt Pt/C","x":-0.081,"y":-53.8},{"s":"20% Wt Pt/C","x":-0.076,"y":-49.6},{"s":"20% Wt Pt/C","x":-0.072,"y":-45.8},{"s":"20% Wt Pt/C","x":-0.068,"y":-42.2},{"s":"20% Wt Pt/C","x":-0.064,"y":-38.3},{"s":"20% Wt Pt/C","x":-0.06,"y":-34.5},{"s":"20% Wt Pt/C","x":-0.056,"y":-30.9},{"s":"20% Wt Pt/C","x":-0.051,"y":-26.9},{"s":"20% Wt Pt/C","x":-0.047,"y":-23.2},{"s":"20% Wt Pt/C","x":-0.043,"y":-19.6},{"s":"20% Wt Pt/C","x":-0.039,"y":-16.2},{"s":"20% Wt Pt/C","x":-0.034,"y":-13},{"s":"20% Wt Pt/C","x":-0.03,"y":-10.2},{"s":"20% Wt Pt/C","x":-0.026,"y":-7.5},{"s":"20% Wt Pt/C","x":-0.022,"y":-5.1},{"s":"20% Wt Pt/C","x":-0.018,"y":-3.1},{"s":"20% Wt Pt/C","x":-0.014,"y":-1.6},{"s":"20% Wt Pt/C","x":-0.01,"y":-0.6},{"s":"20% Wt Pt/C","x":-0.006,"y":-0.2},{"s":"20% Wt Pt/C","x":-0.002,"y":-0.1}
],
"f":[{"t":0,"j":-11.5},{"t":0.1,"j":-11},{"t":0.3,"j":-10.8},{"t":0.6,"j":-10.6},{"t":1,"j":-10.3},{"t":1.5,"j":-10.1},{"t":2,"j":-10},{"t":2.5,"j":-9.9},{"t":3,"j":-9.7},{"t":3.5,"j":-9.4},{"t":4,"j":-9.2},{"t":4.5,"j":-9},{"t":5,"j":-8.8},{"t":5.5,"j":-8.8},{"t":6,"j":-8.7},{"t":6.5,"j":-8.5},{"t":7,"j":-8.6},{"t":7.3,"j":-8.8},{"t":7.6,"j":-9.1},{"t":8,"j":-9},{"t":8.5,"j":-9.1},{"t":9,"j":-9},{"t":9.5,"j":-9},{"t":10,"j":-8.9}],
"fi":[
{"s":"First","x":-0.46,"y":-97.6},{"s":"First","x":-0.453,"y":-92.3},{"s":"First","x":-0.447,"y":-88.3},{"s":"First","x":-0.44,"y":-84.1},{"s":"First","x":-0.433,"y":-80.3},{"s":"First","x":-0.426,"y":-76.1},{"s":"First","x":-0.419,"y":-72.3},{"s":"First","x":-0.412,"y":-68.6},{"s":"First","x":-0.404,"y":-65.2},{"s":"First","x":-0.398,"y":-61.3},{"s":"First","x":-0.391,"y":-57.7},{"s":"First","x":-0.384,"y":-54.5},{"s":"First","x":-0.376,"y":-51.1},{"s":"First","x":-0.37,"y":-47.9},{"s":"First","x":-0.363,"y":-44.6},{"s":"First","x":-0.355,"y":-41.5},{"s":"First","x":-0.348,"y":-38.5},{"s":"First","x":-0.341,"y":-35.6},{"s":"First","x":-0.335,"y":-32.8},{"s":"First","x":-0.327,"y":-30},{"s":"First","x":-0.32,"y":-27.2},{"s":"First","x":-0.312,"y":-24.4},{"s":"First","x":-0.305,"y":-21.8},{"s":"First","x":-0.296,"y":-19.3},{"s":"First","x":-0.288,"y":-16.9},{"s":"First","x":-0.28,"y":-14.8},{"s":"First","x":-0.271,"y":-12.7},{"s":"First","x":-0.263,"y":-10.6},{"s":"First","x":-0.251,"y":-8.5},{"s":"First","x":-0.24,"y":-6.6},{"s":"First","x":-0.229,"y":-4.9},{"s":"First","x":-0.218,"y":-3.5},{"s":"First","x":-0.206,"y":-2.5},{"s":"First","x":-0.195,"y":-1.8},{"s":"First","x":-0.185,"y":-1.3},{"s":"First","x":-0.175,"y":-1},{"s":"First","x":-0.165,"y":-0.8},{"s":"First","x":-0.155,"y":-0.7},{"s":"First","x":-0.145,"y":-0.6},{"s":"First","x":-0.135,"y":-0.6},{"s":"First","x":-0.125,"y":-0.5},{"s":"First","x":-0.115,"y":-0.5},{"s":"First","x":-0.105,"y":-0.5},{"s":"First","x":-0.095,"y":-0.5},{"s":"First","x":-0.085,"y":-0.5},{"s":"First","x":-0.075,"y":-0.5},{"s":"First","x":-0.065,"y":-0.5},{"s":"First","x":-0.055,"y":-0.5},{"s":"First","x":-0.045,"y":-0.5},{"s":"First","x":-0.035,"y":-0.5},{"s":"First","x":-0.025,"y":-0.5},{"s":"First","x":-0.015,"y":-0.5},{"s":"First","x":-0.005,"y":-0.5},
{"s":"After 1000 cycles","x":-0.458,"y":-97.3},{"s":"After 1000 cycles","x":-0.451,"y":-92},{"s":"After 1000 cycles","x":-0.445,"y":-88},{"s":"After 1000 cycles","x":-0.438,"y":-83.8},{"s":"After 1000 cycles","x":-0.431,"y":-80},{"s":"After 1000 cycles","x":-0.424,"y":-75.8},{"s":"After 1000 cycles","x":-0.417,"y":-72},{"s":"After 1000 cycles","x":-0.41,"y":-68.3},{"s":"After 1000 cycles","x":-0.402,"y":-64.9},{"s":"After 1000 cycles","x":-0.396,"y":-61},{"s":"After 1000 cycles","x":-0.389,"y":-57.4},{"s":"After 1000 cycles","x":-0.382,"y":-54.2},{"s":"After 1000 cycles","x":-0.374,"y":-50.8},{"s":"After 1000 cycles","x":-0.368,"y":-47.6},{"s":"After 1000 cycles","x":-0.361,"y":-44.3},{"s":"After 1000 cycles","x":-0.353,"y":-41.2},{"s":"After 1000 cycles","x":-0.346,"y":-38.2},{"s":"After 1000 cycles","x":-0.339,"y":-35.3},{"s":"After 1000 cycles","x":-0.333,"y":-32.5},{"s":"After 1000 cycles","x":-0.325,"y":-29.7},{"s":"After 1000 cycles","x":-0.318,"y":-26.9},{"s":"After 1000 cycles","x":-0.31,"y":-24.1},{"s":"After 1000 cycles","x":-0.303,"y":-21.6},{"s":"After 1000 cycles","x":-0.294,"y":-19.1},{"s":"After 1000 cycles","x":-0.286,"y":-16.8},{"s":"After 1000 cycles","x":-0.278,"y":-14.7},{"s":"After 1000 cycles","x":-0.269,"y":-12.6},{"s":"After 1000 cycles","x":-0.261,"y":-10.6},{"s":"After 1000 cycles","x":-0.249,"y":-8.6},{"s":"After 1000 cycles","x":-0.238,"y":-6.8},{"s":"After 1000 cycles","x":-0.227,"y":-5.2},{"s":"After 1000 cycles","x":-0.216,"y":-3.9},{"s":"After 1000 cycles","x":-0.204,"y":-2.9},{"s":"After 1000 cycles","x":-0.193,"y":-2.2},{"s":"After 1000 cycles","x":-0.183,"y":-1.8},{"s":"After 1000 cycles","x":-0.173,"y":-1.6},{"s":"After 1000 cycles","x":-0.163,"y":-1.5},{"s":"After 1000 cycles","x":-0.153,"y":-1.4},{"s":"After 1000 cycles","x":-0.143,"y":-1.4},{"s":"After 1000 cycles","x":-0.133,"y":-1.3},{"s":"After 1000 cycles","x":-0.123,"y":-1.3},{"s":"After 1000 cycles","x":-0.113,"y":-1.3},{"s":"After 1000 cycles","x":-0.103,"y":-1.3},{"s":"After 1000 cycles","x":-0.093,"y":-1.3},{"s":"After 1000 cycles","x":-0.083,"y":-1.3},{"s":"After 1000 cycles","x":-0.073,"y":-1.3},{"s":"After 1000 cycles","x":-0.063,"y":-1.3},{"s":"After 1000 cycles","x":-0.053,"y":-1.3},{"s":"After 1000 cycles","x":-0.043,"y":-1.3},{"s":"After 1000 cycles","x":-0.033,"y":-1.3},{"s":"After 1000 cycles","x":-0.023,"y":-1.3},{"s":"After 1000 cycles","x":-0.013,"y":-1.3},{"s":"After 1000 cycles","x":-0.003,"y":-1.3}
]
},
"resolve":{"scale":{"shape":"independent","fill":"independent","stroke":"independent","color":"independent"},"legend":{"shape":"independent","fill":"independent","stroke":"independent","color":"independent"}},
"hconcat":[
{"vconcat":[
 {"width":453,"height":341,
  "title":{"text":"(a)","dx":-12,"dy":10},
  "data":{"name":"a"},
  "mark":{"type":"point","size":64,"strokeWidth":1.2,"opacity":1,"clip":true},
  "encoding":{
   "x":{"field":"x","type":"quantitative","scale":{"domain":[-0.5,0],"nice":false,"zero":false},
    "axis":{"title":"Potential (V vs. RHE)","values":[-0.5,-0.45,-0.4,-0.35,-0.3,-0.25,-0.2,-0.15,-0.1,-0.05,0],"labelExpr":"abs(round(datum.value*100)) % 10 === 0 ? format(datum.value,'.1f') : ''","tickSize":{"condition":{"test":"abs(round(datum.value*100)) % 10 === 0","value":7},"value":4}}},
   "y":{"field":"y","type":"quantitative","scale":{"domain":[-100,5],"nice":false,"zero":false},
    "axis":{"title":"Current Density (mA/cm²)","values":[-100,-90,-80,-70,-60,-50,-40,-30,-20,-10,0],"labelExpr":"datum.value % 20 === 0 ? datum.label : ''","tickSize":{"condition":{"test":"datum.value % 20 === 0","value":7},"value":4}}},
   "shape":{"field":"s","type":"nominal","scale":{"domain":["Ag","Cd","Co","Cr","Pb","Zn","Mn","Ni","bare","Fe"],"range":["square","square","M0,-1L0.866,-0.5L0.866,0.5L0,1L-0.866,0.5L-0.866,-0.5Z","triangle-down","M0,-1L0.235,-0.324L0.951,-0.309L0.38,0.124L0.588,0.809L0,0.4L-0.588,0.809L-0.38,0.124L-0.951,-0.309L-0.235,-0.324Z","circle","M0,-1L0.866,-0.5L0.866,0.5L0,1L-0.866,0.5L-0.866,-0.5Z","diamond","triangle-up","circle"]},
    "legend":{"title":null,"orient":"none","legendX":379,"legendY":60,"rowPadding":9,"labelOffset":14,"symbolSize":64,"symbolStrokeWidth":1.2}},
   "fill":{"field":"s","type":"nominal","scale":{"domain":["Ag","Cd","Co","Cr","Pb","Zn","Mn","Ni","bare","Fe"],"range":["#111","transparent","#9a9a9a","#666","#777","transparent","#333","#333","transparent","#888"]},
    "legend":{"title":null,"orient":"none","legendX":379,"legendY":60,"rowPadding":9,"labelOffset":14,"symbolSize":64,"symbolStrokeWidth":1.2}},
   "stroke":{"field":"s","type":"nominal","scale":{"domain":["Ag","Cd","Co","Cr","Pb","Zn","Mn","Ni","bare","Fe"],"range":["#111","#999","#555","#666","#777","#999","#333","#333","#aaa","#888"]},
    "legend":{"title":null,"orient":"none","legendX":379,"legendY":60,"rowPadding":9,"labelOffset":14,"symbolSize":64,"symbolStrokeWidth":1.2}}
  }},
 {"width":441,"height":345,
  "title":{"text":"(c)","dx":-18,"dy":28},
  "data":{"name":"c"},
  "mark":{"type":"point","size":80,"strokeWidth":1.2,"opacity":1,"clip":true},
  "encoding":{
   "x":{"field":"x","type":"quantitative","scale":{"domain":[0,3],"nice":false,"zero":false},
    "axis":{"title":"Log (|Jɢ|)","values":[0,0.25,0.5,0.75,1,1.25,1.5,1.75,2,2.25,2.5,2.75,3],"labelExpr":"round(datum.value*100) % 50 === 0 ? format(datum.value,'.1f') : ''","tickSize":{"condition":{"test":"round(datum.value*100) % 50 === 0","value":7},"value":4}}},
   "y":{"field":"y","type":"quantitative","scale":{"domain":[-0.6,0.05],"nice":false,"zero":false},
    "axis":{"title":"Potential (V vs. RHE)","values":[-0.6,-0.55,-0.5,-0.45,-0.4,-0.35,-0.3,-0.25,-0.2,-0.15,-0.1,-0.05,0],"labelExpr":"abs(round(datum.value*100)) % 10 === 0 ? format(datum.value,'.1f') : ''","tickSize":{"condition":{"test":"abs(round(datum.value*100)) % 10 === 0","value":7},"value":4}}},
   "shape":{"field":"s","type":"nominal","scale":{"domain":["Ag","Cd","Co","Cr"," ","Pb","Zn","Mn","  ","   ","Ni","Fe"],"range":["square","square","M0,-1L0.866,-0.5L0.866,0.5L0,1L-0.866,0.5L-0.866,-0.5Z","triangle-down","circle","M0,-1L0.235,-0.324L0.951,-0.309L0.38,0.124L0.588,0.809L0,0.4L-0.588,0.809L-0.38,0.124L-0.951,-0.309L-0.235,-0.324Z","circle","M0,-1L0.866,-0.5L0.866,0.5L0,1L-0.866,0.5L-0.866,-0.5Z","circle","circle","diamond","circle"]},
    "legend":{"title":null,"orient":"none","legendX":84,"legendY":6,"direction":"horizontal","columns":4,"columnPadding":41,"rowPadding":8,"labelOffset":14,"symbolSize":64,"symbolStrokeWidth":1.2}},
   "fill":{"field":"s","type":"nominal","scale":{"domain":["Ag","Cd","Co","Cr"," ","Pb","Zn","Mn","  ","   ","Ni","Fe"],"range":["#111","transparent","#9a9a9a","#666","transparent","#777","transparent","#333","transparent","transparent","#333","#888"]},
    "legend":{"title":null,"orient":"none","legendX":84,"legendY":6,"direction":"horizontal","columns":4,"columnPadding":41,"rowPadding":8,"labelOffset":14,"symbolSize":64,"symbolStrokeWidth":1.2}},
   "stroke":{"field":"s","type":"nominal","scale":{"domain":["Ag","Cd","Co","Cr"," ","Pb","Zn","Mn","  ","   ","Ni","Fe"],"range":["#111","#999","#555","#666","transparent","#777","#999","#333","transparent","transparent","#333","#888"]},
    "legend":{"title":null,"orient":"none","legendX":84,"legendY":6,"direction":"horizontal","columns":4,"columnPadding":41,"rowPadding":8,"labelOffset":14,"symbolSize":64,"symbolStrokeWidth":1.2}}
  }},
 {"width":448,"height":333,
  "title":{"text":"(e)","dx":-12,"dy":12},
  "data":{"name":"e"},
  "mark":{"type":"point","size":64,"strokeWidth":1,"opacity":1,"filled":true,"clip":true},
  "encoding":{
   "x":{"field":"x","type":"quantitative","scale":{"domain":[-0.5,0],"nice":false,"zero":false},
    "axis":{"title":"Potential (V vs. RHE)","values":[-0.5,-0.45,-0.4,-0.35,-0.3,-0.25,-0.2,-0.15,-0.1,-0.05,0],"labelExpr":"abs(round(datum.value*100)) % 10 === 0 ? format(datum.value,'.1f') : ''","tickSize":{"condition":{"test":"abs(round(datum.value*100)) % 10 === 0","value":7},"value":4}}},
   "y":{"field":"y","type":"quantitative","scale":{"domain":[-100,0],"nice":false,"zero":false},
    "axis":{"title":"Current Density (mA/cm²)","values":[-100,-90,-80,-70,-60,-50,-40,-30,-20,-10,0],"labelExpr":"datum.value % 20 === 0 ? datum.label : ''","tickSize":{"condition":{"test":"datum.value % 20 === 0","value":7},"value":4}}},
   "shape":{"field":"s","type":"nominal","scale":{"domain":["mM-C","20% Wt Pt/C"],"range":["square","circle"]},
    "legend":{"title":null,"orient":"none","legendX":145,"legendY":218,"rowPadding":9,"labelOffset":14,"symbolSize":64}},
   "color":{"field":"s","type":"nominal","scale":{"domain":["mM-C","20% Wt Pt/C"],"range":["#111","#8c8c8c"]},
    "legend":{"title":null,"orient":"none","legendX":145,"legendY":218,"rowPadding":9,"labelOffset":14,"symbolSize":64}}
  }}
 ],"spacing":80,"bounds":"flush",
 "resolve":{"scale":{"shape":"independent","fill":"independent","stroke":"independent","color":"independent"},"legend":{"shape":"independent","fill":"independent","stroke":"independent","color":"independent"}}},
{"vconcat":[
 {"width":452,"height":346,
  "title":{"text":"(b)","dx":30,"dy":10},
  "data":{"name":"b"},
  "encoding":{"x":{"field":"m","type":"nominal","sort":null,"scale":{"domain":["Fe","Pb","Cr","Co","Ni","Ag","Mn","Cd","Zn"],"paddingInner":0.167,"paddingOuter":0.574,"align":0.5},"axis":{"title":"Metal","labels":false,"ticks":false,"titlePadding":28}}},
  "layer":[
   {"mark":{"type":"bar","stroke":"#222","strokeWidth":1.8,"fill":{"gradient":"linear","x1":0,"y1":0,"x2":1,"y2":0,"stops":[{"offset":0,"color":"#fff"},{"offset":0.07,"color":"#fff"},{"offset":0.07,"color":"#555"},{"offset":0.1,"color":"#555"},{"offset":0.1,"color":"#fff"},{"offset":0.237,"color":"#fff"},{"offset":0.237,"color":"#555"},{"offset":0.267,"color":"#555"},{"offset":0.267,"color":"#fff"},{"offset":0.403,"color":"#fff"},{"offset":0.403,"color":"#555"},{"offset":0.433,"color":"#555"},{"offset":0.433,"color":"#fff"},{"offset":0.57,"color":"#fff"},{"offset":0.57,"color":"#555"},{"offset":0.6,"color":"#555"},{"offset":0.6,"color":"#fff"},{"offset":0.737,"color":"#fff"},{"offset":0.737,"color":"#555"},{"offset":0.767,"color":"#555"},{"offset":0.767,"color":"#fff"},{"offset":0.903,"color":"#fff"},{"offset":0.903,"color":"#555"},{"offset":0.933,"color":"#555"},{"offset":0.933,"color":"#fff"},{"offset":1,"color":"#fff"}]}},
    "encoding":{"y":{"field":"v","type":"quantitative","title":"Potential (mV vs. RHE)","scale":{"domain":[0,550],"nice":false},
     "axis":{"values":[0,50,100,150,200,250,300,350,400,450,500],"labelExpr":"datum.value % 100 === 0 ? datum.label : ''","tickSize":{"condition":{"test":"datum.value % 100 === 0","value":7},"value":4},"titlePadding":22}}}},
   {"mark":{"type":"errorbar","ticks":{"size":12,"thickness":1.5,"color":"#222"},"rule":{"strokeWidth":1.5,"color":"#222"}},
    "encoding":{"y":{"field":"lo","type":"quantitative","title":"Potential (mV vs. RHE)"},"y2":{"field":"hi"}}},
   {"mark":{"type":"text","baseline":"bottom","dy":-4,"fontSize":17,"fontWeight":"bold","color":"#111"},
    "encoding":{"y":{"field":"hi","type":"quantitative","title":"Potential (mV vs. RHE)"},"text":{"field":"m"}}}
  ]},
 {"width":452,"height":347,
  "title":{"text":"(d)","dx":-8,"dy":39},
  "data":{"name":"d"},
  "encoding":{"x":{"field":"m","type":"nominal","sort":null,"scale":{"domain":["Fe","Pb","Co","Cr","Ni","Mn","Cd","Zn","Ag"],"paddingInner":0.164,"paddingOuter":0.485,"align":0.75},"axis":{"title":"Metal","labels":false,"ticks":false,"titlePadding":24}}},
  "layer":[
   {"mark":{"type":"bar","stroke":"#222","strokeWidth":1.8,"fill":{"gradient":"linear","x1":0,"y1":0,"x2":1,"y2":0,"stops":[{"offset":0,"color":"#fff"},{"offset":0.07,"color":"#fff"},{"offset":0.07,"color":"#555"},{"offset":0.1,"color":"#555"},{"offset":0.1,"color":"#fff"},{"offset":0.237,"color":"#fff"},{"offset":0.237,"color":"#555"},{"offset":0.267,"color":"#555"},{"offset":0.267,"color":"#fff"},{"offset":0.403,"color":"#fff"},{"offset":0.403,"color":"#555"},{"offset":0.433,"color":"#555"},{"offset":0.433,"color":"#fff"},{"offset":0.57,"color":"#fff"},{"offset":0.57,"color":"#555"},{"offset":0.6,"color":"#555"},{"offset":0.6,"color":"#fff"},{"offset":0.737,"color":"#fff"},{"offset":0.737,"color":"#555"},{"offset":0.767,"color":"#555"},{"offset":0.767,"color":"#fff"},{"offset":0.903,"color":"#fff"},{"offset":0.903,"color":"#555"},{"offset":0.933,"color":"#555"},{"offset":0.933,"color":"#fff"},{"offset":1,"color":"#fff"}]}},
    "encoding":{"y":{"field":"v","type":"quantitative","title":"Tafel Slope (mV/dec)","scale":{"domain":[0,250],"nice":false},
     "axis":{"values":[0,25,50,75,100,125,150,175,200,225,250],"labelExpr":"datum.value % 50 === 0 ? datum.label : ''","tickSize":{"condition":{"test":"datum.value % 50 === 0","value":7},"value":4},"titlePadding":22}}}},
   {"mark":{"type":"errorbar","ticks":{"size":12,"thickness":1.5,"color":"#222"},"rule":{"strokeWidth":1.5,"color":"#222"}},
    "encoding":{"y":{"field":"lo","type":"quantitative","title":"Tafel Slope (mV/dec)"},"y2":{"field":"hi"}}},
   {"mark":{"type":"text","baseline":"bottom","dy":-4,"fontSize":17,"fontWeight":"bold","color":"#111"},
    "encoding":{"y":{"field":"hi","type":"quantitative","title":"Tafel Slope (mV/dec)"},"text":{"field":"m"}}}
  ]},
 {"width":442,"height":338,
  "title":{"text":"(f)","dx":-2,"dy":20},
  "layer":[
   {"data":{"name":"f"},"mark":{"type":"line","color":"#111","strokeWidth":2.2},
    "encoding":{
     "x":{"field":"t","type":"quantitative","scale":{"domain":[0,10],"nice":false,"zero":false},
      "axis":{"title":"Time (h)","values":[0,1,2,3,4,5,6,7,8,9,10],"labelExpr":"datum.value % 2 === 0 ? datum.label : ''","tickSize":{"condition":{"test":"datum.value % 2 === 0","value":7},"value":4}}},
     "y":{"field":"j","type":"quantitative","scale":{"domain":[-100,0],"nice":false,"zero":false},
      "axis":{"title":"Current Density (mA/cm²)","titlePadding":18,"values":[-100,-90,-80,-70,-60,-50,-40,-30,-20,-10,0],"labelExpr":"datum.value % 20 === 0 ? datum.label : ''","tickSize":{"condition":{"test":"datum.value % 20 === 0","value":7},"value":4}}}}},
   {"layer":[
     {"data":{"values":[{}]},"mark":{"type":"rect","fill":"white","stroke":"#222","strokeWidth":1.6},
      "encoding":{
       "x":{"datum":-0.5,"type":"quantitative","scale":{"domain":[-0.654,0.039],"nice":false,"zero":false},
        "axis":{"orient":"bottom","offset":-52,"domain":false,"title":"Potential (V vs. RHE)","titleX":253,"titleFontSize":16,"labelFontSize":13,"labelPadding":2,"titlePadding":4,"values":[-0.5,-0.45,-0.4,-0.35,-0.3,-0.25,-0.2,-0.15,-0.1,-0.05,0],"labelExpr":"abs(round(datum.value*100)) % 10 === 0 ? format(datum.value,'.1f') : ''","tickSize":{"condition":{"test":"abs(round(datum.value*100)) % 10 === 0","value":4},"value":2},"tickWidth":1.2}},
       "x2":{"datum":0},
       "y":{"datum":-100,"type":"quantitative","scale":{"domain":[-121.9,20.7],"nice":false,"zero":false},
        "axis":{"orient":"left","offset":-99,"domain":false,"title":"Current Density (mA/cm²)","titleFontSize":16,"labelFontSize":13,"labelPadding":2,"titlePadding":4,"values":[-100,-90,-80,-70,-60,-50,-40,-30,-20,-10,0],"labelExpr":"datum.value % 20 === 0 ? datum.label : ''","tickSize":{"condition":{"test":"datum.value % 20 === 0","value":4},"value":2},"tickWidth":1.2}},
       "y2":{"datum":0}}},
     {"data":{"name":"fi"},"mark":{"type":"point","size":26,"opacity":1,"filled":true,"clip":true},
      "encoding":{
       "x":{"field":"x","type":"quantitative"},
       "y":{"field":"y","type":"quantitative"},
       "shape":{"field":"s","type":"nominal","scale":{"domain":["First","After 1000 cycles"],"range":["square","circle"]},
        "legend":{"title":null,"orient":"none","legendX":252,"legendY":202,"rowPadding":5,"labelOffset":10,"labelFontSize":13,"symbolSize":30}},
       "color":{"field":"s","type":"nominal","scale":{"domain":["First","After 1000 cycles"],"range":["#111","#999"]},
        "legend":{"title":null,"orient":"none","legendX":252,"legendY":202,"rowPadding":5,"labelOffset":10,"labelFontSize":13,"symbolSize":30}}}}
   ]}
  ],
  "resolve":{"scale":{"x":"independent","y":"independent"},"axis":{"x":"independent","y":"independent"}}}
 ],"spacing":74,"bounds":"flush",
 "resolve":{"scale":{"shape":"independent","fill":"independent","stroke":"independent","color":"independent"},"legend":{"shape":"independent","fill":"independent","stroke":"independent","color":"independent"}}}
],
"spacing":4
}
